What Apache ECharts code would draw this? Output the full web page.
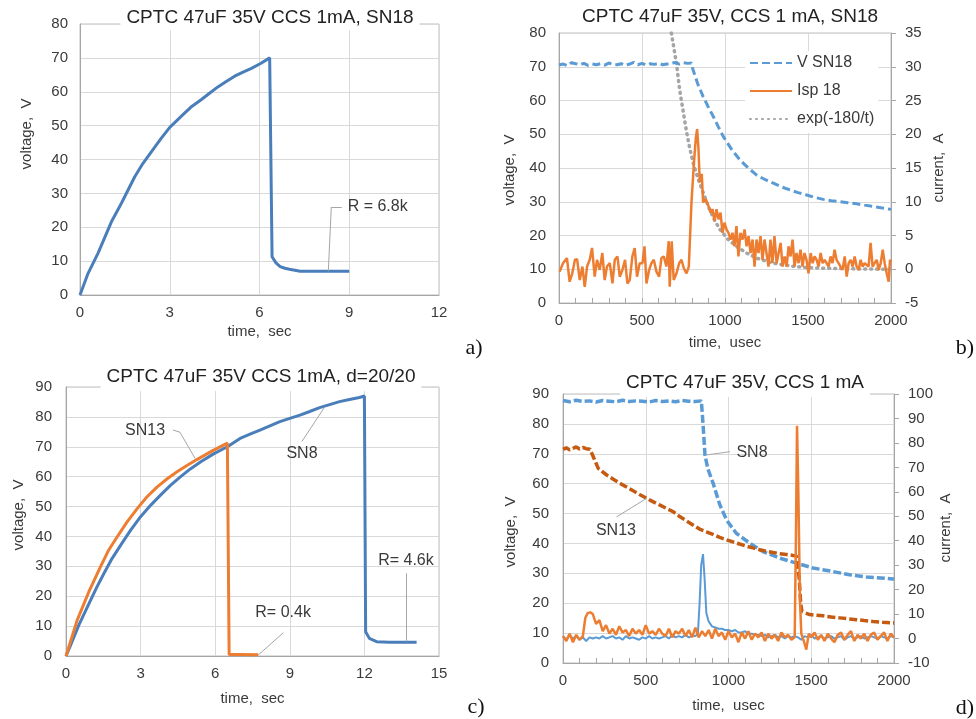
<!DOCTYPE html>
<html><head><meta charset="utf-8">
<script src="https://cdn.jsdelivr.net/npm/echarts@6/dist/echarts.min.js"></script>
<style>html,body{margin:0;padding:0;background:#fff}#c{width:976px;height:719px}</style>
</head><body><div id="c"></div>
<script>
// ---------- Panel a ----------
const aTime = [0,0.27,0.6,1.05,1.38,1.83,2.1,2.39,2.7,3.0,3.39,3.7,4.06,4.35,4.62,4.9,5.17,5.45,5.73,6.05,6.34,6.39,6.42,6.55,6.69,6.85,7.0,7.36,8,9];
const aVolt = [0,6.4,12.3,21.6,27,34.9,38.8,42.3,46.1,49.5,52.8,55.4,57.7,59.7,61.5,63.1,64.6,65.8,66.9,68.4,70,70,11.3,9.5,8.4,7.9,7.6,7.0,7.0,7.0];
// ---------- Panel b ----------
const bVT = [0,25,50,75,100,125,150,175,200,225,250,275,300,325,350,375,400,425,450,475,500,525,550,575,600,625,650,675,700,725,750,775,798,805,835,869,900,930,960,990,1040,1090,1140,1191,1240,1291,1340,1391,1440,1492,1540,1592,1640,1693,1740,1793,1840,1894,1940,1994,2000];
const bVV = [70.5,70.8,70.3,71.2,70.9,70.6,71.0,70.4,70.8,70.6,70.9,70.5,71.1,70.7,70.6,70.9,70.4,70.8,71.3,70.6,71.0,70.5,70.9,70.7,71.0,70.6,70.8,70.9,71.3,70.8,71.2,71.0,71.1,69.5,65,61.1,58,55.2,52.2,49.3,45.5,42.4,40,37.9,36.6,35.5,34.4,33.5,32.7,32,31.3,30.7,30.3,30,29.7,29.4,29,28.6,28.2,27.8,27.6];
const bIT = [4,24,48,64,80,96,109,125,141,155,169,185,199,215,229,245,261,275,289,306,322,336,352,366,382,398,412,426,442,456,470,486,503,515,527,543,557,571,587,603,617,631,647,661,667,679,691,708,724,738,752,768,782,792,798,812,824,832,840,848,860,868,884,900,913,925,937,949,961,973,985,997,1009,1021,1033,1045,1057,1069,1081,1093,1106,1118,1130,1142,1154,1166,1178,1190,1202,1214,1226,1238,1250,1262,1274,1286,1298,1311,1323,1335,1347,1359,1371,1383,1395,1407,1419,1431,1443,1455,1467,1479,1491,1503,1516,1528,1540,1552,1564,1576,1588,1600,1612,1624,1636,1648,1660,1672,1684,1696,1708,1721,1733,1745,1757,1769,1781,1793,1805,1817,1829,1841,1853,1865,1877,1889,1901,1914,1926,1938,1950,1962,1974,1986,1994,2000];
const bIA = [-0.35,0.9,1.65,-1.85,-0.6,1.4,1.5,-1.6,0.4,-2.6,0.4,1.4,3.15,-1.1,1.4,-0.1,2.4,-1.6,0.4,0.9,-2.1,1.4,1.9,-1.1,-0.1,1.4,-2.1,-1.6,1.9,3.15,-1.1,0.9,0.9,3.4,-2.1,-0.1,0.9,1.4,-0.35,-1.1,1.65,1.9,0.4,4.15,-2.6,4.15,-1.6,-0.6,0.9,1.4,0.15,-0.6,0.4,0.65,9.9,15.4,19.4,20.75,17.9,12.9,14.15,9.9,10.4,9.4,8.4,8.9,7.15,8.9,7.4,8.4,5.4,6.9,5.9,5.4,4.4,5.4,3.4,6.4,1.9,5.4,4.4,5.9,3.4,4.9,2.4,4.4,0.4,4.4,2.4,4.9,1.4,4.4,2.4,0.4,4.4,0.9,4.9,0.9,2.4,3.9,0.4,1.9,0.4,3.4,1.9,4.4,0.4,2.4,0.9,2.9,0.4,2.4,1.4,-0.6,2.4,0.9,1.9,1.4,0.4,2.4,0.9,1.4,0.9,0.4,1.9,0.9,2.9,1.4,0.9,0.4,-0.1,1.9,-1.1,0.9,1.4,0.4,1.9,0.4,-0.1,1.4,0.4,0.9,0.9,0.4,3.9,0.4,0.9,1.4,-0.1,0.9,2.9,0.9,-0.6,-1.85,1.4,1.0];
const bET = [677,708,728,748,768,788,812,838,868,898,929,969,1019,1069,1130,1190,1290,1391,1491,1592,1793,1994,2000];
const bEA = [35,30.4,26.4,23.4,20.4,17.9,15.4,13.4,11.4,9.4,7.65,5.9,4.4,3.4,2.4,1.65,0.9,0.5,0.25,0.15,0.05,0.0,0.0];
// ---------- Panel c ----------
const cT8 = [0,0.16,0.52,0.99,1.25,1.53,1.85,2.2,2.6,3.0,3.4,3.81,4.2,4.61,5.0,5.42,5.95,6.49,7.0,7.4,7.8,8.2,8.6,9.0,9.41,9.8,10.2,10.6,11.0,11.4,11.8,12.0,12.05,12.2,12.49,13,14.1];
const cV8 = [0,3.1,10.4,18.7,23.2,27.7,32.6,37.1,42.1,46.6,50.4,53.9,57.1,60,62.6,65,67.7,70,72.8,74.2,75.6,77,78.4,79.5,80.6,81.8,83.1,84.1,85.1,85.8,86.5,87,8.1,5.9,4.8,4.6,4.6];
const cT13 = [0,0.45,0.92,1.39,1.7,2.06,2.45,2.87,3.25,3.67,4.07,4.48,4.88,5.28,5.9,6.49,6.53,6.56,7.0,7.73];
const cV13 = [0,12,21.5,29.9,35.2,39.9,44.8,49.4,53.2,56.6,59.3,61.7,63.8,65.8,68.7,71.2,71.0,0.5,0.5,0.4];
// ---------- Panel d ----------
const dV8T = [0,40,80,120,160,200,240,280,320,360,400,440,480,520,560,600,640,680,720,760,800,836,846,858,875,908,947,989,1047,1128,1208,1309,1410,1510,1631,1732,1833,1994,2000];
const dV8V = [87.8,87.4,87.9,87.5,87.7,87.3,87.8,87.6,87.4,87.9,87.5,87.7,87.6,87.3,87.8,87.5,87.7,87.4,87.8,87.6,87.5,87.7,80,69.5,65,60,53,47.8,43.4,40.1,37.3,35.1,33.4,31.8,30.6,29.5,28.8,28.1,28.0];
const dV13T = [0,20,40,60,80,100,120,140,163,183,213,264,304,344,384,424,465,506,546,586,626,666,705,745,785,825,866,906,947,987,1027,1067,1108,1148,1188,1228,1268,1308,1350,1390,1410,1420,1428,1436,1444,1450,1490,1530,1571,1620,1672,1720,1772,1820,1873,1930,1994,2000];
const dV13V = [71.5,72.0,71.3,71.8,72.3,71.6,72.1,71.7,71.5,69,65.1,62.9,61.5,60.1,58.9,57.6,56.3,55.1,53.9,52.8,51.7,50.6,49.0,47.6,46.2,44.8,43.9,43.0,42.0,41.2,40.5,39.8,39.1,38.5,37.9,37.4,37.0,36.6,36.3,36.0,35.9,35.6,28,20,17.2,16.7,16.2,16.0,15.8,15.4,15.1,14.8,14.5,14.2,13.9,13.6,13.4,13.4];
const dI8T = [0,20,40,60,80,100,120,140,160,180,200,220,240,260,280,300,320,340,360,380,400,420,440,460,480,500,520,540,560,580,600,620,640,660,680,700,720,740,760,780,800,815,825,835,846,856,866,880,900,920,940,960,980,1000,1020,1040,1060,1080,1100,1120,1140,1160,1180,1200,1220,1240,1260,1280,1300,1320,1340,1360,1380,1400,1420,1440,1460,1480,1500,1520,1540,1560,1580,1600,1620,1640,1660,1680,1700,1720,1740,1760,1780,1800,1820,1840,1860,1880,1900,1920,1940,1960,1980,2000];
const dI8A = [1.0,-0.5,1.5,0.0,1.0,-0.5,0.5,-1.0,0.5,0.0,0.5,0.0,1.0,0.0,0.5,1.0,0.0,0.5,-0.5,1.0,0.0,0.5,0.0,-0.5,0.5,0.0,1.0,0.0,0.5,0.0,0.5,1.0,0.0,1.5,0.5,1.0,0.5,1.5,0.5,1.0,1.0,2.0,14,30,34.5,24,10.5,7.0,5.0,4.5,4.0,4.0,3.5,3.5,3.0,3.5,2.5,2.5,3.0,2.0,2.0,1.5,1.5,1.0,1.5,0.5,1.0,1.5,0.5,1.0,0.0,1.0,0.5,1.0,0.5,-0.5,1.0,0.5,1.5,0.0,0.5,1.0,0.0,0.5,1.0,0.0,0.5,1.0,-0.5,0.5,1.0,0.0,0.5,1.0,0.0,0.5,1.0,0.5,0.0,1.0,0.5,0.0,1.0,0.5];
const dI13T = [0,20,40,60,80,100,120,135,150,165,180,200,220,240,260,280,300,320,340,360,380,400,420,440,460,480,500,520,540,560,580,600,620,640,660,680,700,720,740,760,780,800,820,840,860,880,900,920,940,960,980,1000,1020,1040,1060,1080,1100,1120,1140,1160,1180,1200,1220,1240,1260,1280,1300,1320,1340,1360,1380,1400,1408,1414,1422,1432,1440,1455,1470,1485,1500,1520,1540,1560,1580,1600,1620,1640,1660,1680,1700,1720,1740,1760,1780,1800,1820,1840,1860,1880,1900,1920,1940,1960,1980,2000];
const dI13A = [1.0,-1.0,2.0,-1.5,1.5,-0.5,1.0,8.5,10.5,10.7,10.0,6.0,7.5,3.0,5.5,2.0,4.0,1.5,5.0,2.5,3.5,1.0,4.0,2.0,3.5,1.5,5.5,2.0,3.0,1.5,4.0,2.0,1.0,4.0,0.5,3.0,2.0,4.0,1.0,3.5,0.5,4.5,0.5,3.0,1.0,3.5,0.0,4.0,1.0,2.5,-0.5,3.0,0.5,2.0,-1.5,2.5,0.0,3.0,-0.5,2.0,0.5,2.5,-1.0,2.0,0.0,1.5,-1.0,2.5,0.5,1.5,-0.5,0.5,45,87,60,15,2.0,-1.0,-4.5,2.0,0.5,2.5,-0.5,1.5,-1.0,2.0,0.0,-1.5,1.5,2.5,-0.5,1.5,3.0,-1.0,1.5,0.0,2.0,-1.0,1.5,2.5,-0.5,1.0,2.5,-1.0,2.0,0.5];

const titles = ['CPTC 47uF 35V CCS 1mA, SN18','CPTC 47uF 35V, CCS 1 mA, SN18','CPTC 47uF 35V CCS 1mA, d=20/20','CPTC 47uF 35V, CCS 1 mA'];

const zip = (xs, ys) => xs.map((x, i) => [x, ys[i]]);
const FONT = '"Liberation Sans", Arial, sans-serif';
const TXT = '#3a3a3a';
const BLUE = '#4a7ebb', LBLUE = '#5b9bd5', ORANGE = '#ed7d31', DORANGE = '#c55a11', GRAY = '#a5a5a5';
const split = {show: true, lineStyle: {color: '#d9d9d9', width: 1}};
const axLine = {show: true, lineStyle: {color: '#a6a6a6', width: 1}};
const lbl = (m) => ({color: TXT, fontSize: 15, fontFamily: FONT, margin: m, formatter: (v) => String(v)});
const leader = {color: '#a6a6a6', width: 1, type: 'solid'};

function xAx(gi, max, interval, name, gap, minor) {
  return {type: 'value', gridIndex: gi, min: 0, max, interval, name, nameLocation: 'middle', nameGap: gap,
    nameTextStyle: {color: TXT, fontSize: 15, fontFamily: FONT},
    axisLine: axLine, splitLine: split, axisLabel: lbl(10),
    axisTick: minor ? {show: true, inside: true, length: 5, lineStyle: {color: '#a6a6a6'}} : {show: false},
    minorTick: minor ? {show: true, splitNumber: 5, length: 5, lineStyle: {color: '#a6a6a6'}} : {show: false}};
}
function yAx(gi, min, max, interval, pos, m, grid) {
  return {type: 'value', gridIndex: gi, min, max, interval, position: pos,
    axisLine: axLine, splitLine: grid ? split : {show: false}, axisLabel: lbl(m),
    axisTick: pos === 'right' ? {show: true, length: 5, lineStyle: {color: '#a6a6a6'}} : {show: false}};
}
function note(x, y, text) {
  return {coord: [x, y], value: text, symbol: 'circle', symbolSize: 1, itemStyle: {color: 'rgba(0,0,0,0)'},
    label: {show: true, position: 'inside', formatter: text, color: TXT, fontSize: 16, fontFamily: FONT}};
}
const seg = (x1, y1, x2, y2) => [{coord: [x1, y1]}, {coord: [x2, y2]}];

const chart = echarts.init(document.getElementById('c'), null, {renderer: 'canvas'});
const tStyle = {fontSize: 19, fontWeight: 'normal', color: '#222', fontFamily: FONT};
const option = {
  animation: false,
  backgroundColor: '#fff',
  title: [
    {text: titles[0], left: 270 - 6, top: 7, textAlign: 'center', backgroundColor: '#fff', padding: [1, 6, 3, 6], textStyle: tStyle},
    {text: titles[1], left: 730 - 6, top: 6, textAlign: 'center', backgroundColor: '#fff', padding: [1, 6, 1, 6], textStyle: tStyle},
    {text: titles[2], left: 261 - 6, top: 366, textAlign: 'center', backgroundColor: '#fff', padding: [1, 6, 5, 6], textStyle: tStyle},
    {text: titles[3], left: 745 - 6, top: 372, textAlign: 'center', backgroundColor: '#fff', padding: [1, 6, 5, 6], textStyle: tStyle}
  ],
  legend: {
    data: ['V SN18', 'Isp 18', 'exp(-180/t)'], orient: 'vertical', left: 745, top: 51,
    itemWidth: 42, itemHeight: 14, itemGap: 12, backgroundColor: '#fff', padding: [4, 4, 6, 4],
    itemStyle: {opacity: 0},
    textStyle: {color: TXT, fontSize: 16, fontFamily: FONT}
  },
  grid: [
    {left: 80, top: 24, width: 359, height: 271, show: true, borderColor: '#bfbfbf', borderWidth: 1},
    {left: 559, top: 33, width: 332, height: 270, show: true, borderColor: '#bfbfbf', borderWidth: 1},
    {left: 66, top: 387, width: 373, height: 269, show: true, borderColor: '#bfbfbf', borderWidth: 1},
    {left: 563, top: 394, width: 331, height: 269, show: true, borderColor: '#bfbfbf', borderWidth: 1}
  ],
  xAxis: [
    xAx(0, 12, 3, 'time,  sec', 29, false),
    xAx(1, 2000, 500, 'time,  usec', 32, true),
    xAx(2, 15, 3, 'time,  sec', 35, false),
    xAx(3, 2000, 500, 'time,  usec', 35, true)
  ],
  yAxis: [
    yAx(0, 0, 80, 10, 'left', 12, true),
    yAx(1, 0, 80, 10, 'left', 13, true),
    yAx(1, -5, 35, 5, 'right', 14, false),
    yAx(2, 0, 90, 10, 'left', 14, true),
    yAx(3, 0, 90, 10, 'left', 14, true),
    yAx(3, -10, 100, 10, 'right', 14, false)
  ],
  graphic: [
    ['voltage,  V', 27, 134], ['voltage,  V', 510, 170], ['current,  A', 939, 168],
    ['voltage,  V', 19, 515], ['voltage,  V', 511, 532], ['current,  A', 946, 528]
  ].map(([t, x, y]) => ({type: 'text', x, y, rotation: Math.PI / 2,
      style: {text: t, fill: TXT, font: '15px ' + FONT, align: 'center', verticalAlign: 'middle'}}))
    .concat([['a)', 474, 348], ['b)', 965, 348], ['c)', 476, 707], ['d)', 965, 708]].map(([t, x, y]) => ({
      type: 'text', x, y, style: {text: t, fill: '#111', font: '22px "Liberation Serif", "Times New Roman", serif', align: 'center', verticalAlign: 'middle'}}))),
  series: [
    {name: 'a SN18', type: 'line', xAxisIndex: 0, yAxisIndex: 0, symbol: 'none', data: zip(aTime, aVolt),
      lineStyle: {color: BLUE, width: 3}, itemStyle: {color: BLUE},
      markLine: {silent: true, symbol: 'none', label: {show: false}, lineStyle: leader,
        data: [seg(8.3, 7, 8.4, 26), seg(8.4, 26, 8.75, 26)]},
      markPoint: {silent: true, data: [note(9.95, 26, 'R = 6.8k')]}},
    {name: 'exp(-180/t)', type: 'line', xAxisIndex: 1, yAxisIndex: 2, symbol: 'none', data: zip(bET, bEA),
      lineStyle: {color: GRAY, width: 3.5, type: [1, 5], cap: 'round'}, itemStyle: {color: GRAY}},
    {name: 'V SN18', type: 'line', xAxisIndex: 1, yAxisIndex: 1, symbol: 'none', data: zip(bVT, bVV),
      lineStyle: {color: LBLUE, width: 3, type: [8, 4]}, itemStyle: {color: LBLUE}},
    {name: 'Isp 18', type: 'line', xAxisIndex: 1, yAxisIndex: 2, symbol: 'none', data: zip(bIT, bIA),
      lineStyle: {color: ORANGE, width: 2.5}, itemStyle: {color: ORANGE}},
    {name: 'c SN8', type: 'line', xAxisIndex: 2, yAxisIndex: 3, symbol: 'none', data: zip(cT8, cV8),
      lineStyle: {color: BLUE, width: 3}, itemStyle: {color: BLUE},
      markLine: {silent: true, symbol: 'none', label: {show: false}, lineStyle: leader,
        data: [seg(9.48, 71.7, 10.41, 83.4), seg(13.7, 27.7, 13.7, 4.8), seg(4.3, 75.6, 4.58, 74.9), seg(4.58, 74.9, 5.19, 66.1), seg(8.74, 7.8, 7.73, 0.3)]},
      markPoint: {silent: true, data: [note(9.49, 67.6, 'SN8'), note(13.67, 31.8, 'R= 4.6k'), note(3.18, 75.3, 'SN13'), note(8.73, 14.4, 'R= 0.4k')]}},
    {name: 'c SN13', type: 'line', xAxisIndex: 2, yAxisIndex: 3, symbol: 'none', data: zip(cT13, cV13),
      lineStyle: {color: ORANGE, width: 3}, itemStyle: {color: ORANGE}},
    {name: 'd SN8 V', type: 'line', xAxisIndex: 3, yAxisIndex: 4, symbol: 'none', data: zip(dV8T, dV8V),
      lineStyle: {color: LBLUE, width: 3.5, type: [8, 3]}, itemStyle: {color: LBLUE},
      markLine: {silent: true, symbol: 'none', label: {show: false}, lineStyle: leader,
        data: [seg(868, 69.6, 1009, 70.7), seg(324, 48.9, 506, 55.1)]},
      markPoint: {silent: true, data: [note(1142, 70.3, 'SN8'), note(320, 44.2, 'SN13')]}},
    {name: 'd SN13 V', type: 'line', xAxisIndex: 3, yAxisIndex: 4, symbol: 'none', data: zip(dV13T, dV13V),
      lineStyle: {color: DORANGE, width: 3.5, type: [8, 3]}, itemStyle: {color: DORANGE}},
    {name: 'd SN8 I', type: 'line', xAxisIndex: 3, yAxisIndex: 5, symbol: 'none', data: zip(dI8T, dI8A),
      lineStyle: {color: LBLUE, width: 2}, itemStyle: {color: LBLUE}},
    {name: 'd SN13 I', type: 'line', xAxisIndex: 3, yAxisIndex: 5, symbol: 'none', data: zip(dI13T, dI13A),
      lineStyle: {color: ORANGE, width: 2.5}, itemStyle: {color: ORANGE}}
  ]
};
chart.setOption(option);
</script>
</body></html>
